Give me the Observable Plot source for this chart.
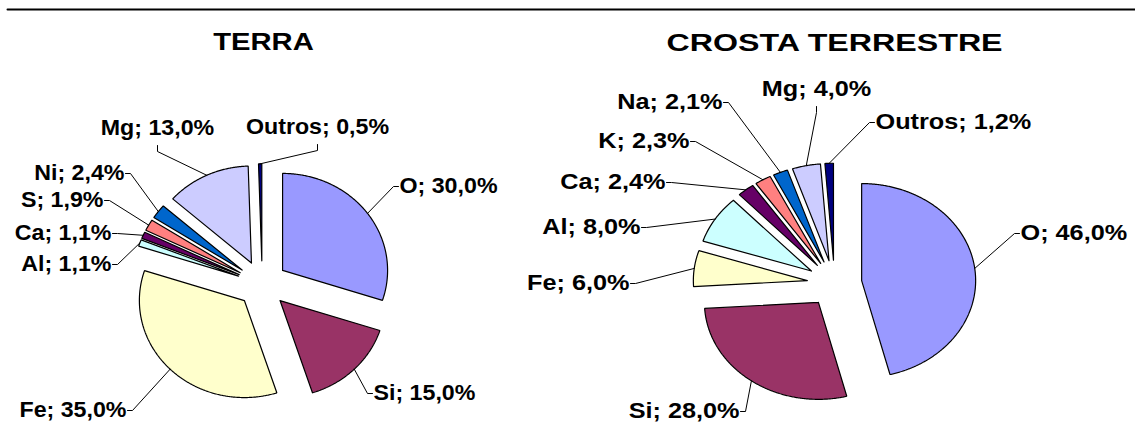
<!DOCTYPE html>
<html><head><meta charset="utf-8">
<script src="https://cdn.jsdelivr.net/npm/d3@7"></script>
<script src="https://cdn.jsdelivr.net/npm/@observablehq/plot@0.6"></script>
<style>html,body{margin:0;padding:0;background:#fff;} #chart svg{display:block;}</style>
</head><body><div id="chart"></div>
<script>
// ---------- DATA ----------
const terraTitle = "TERRA";
const terraCategories = ["O", "Si", "Fe", "Al", "Ca", "S", "Ni", "Mg", "Outros"];
const terraValues = [30.0, 15.0, 35.0, 1.1, 1.1, 1.9, 2.4, 13.0, 0.5];

const crostaTitle = "CROSTA TERRESTRE";
const crostaCategories = ["O", "Si", "Fe", "Al", "Ca", "K", "Na", "Mg", "Outros"];
const crostaValues = [46.0, 28.0, 6.0, 8.0, 2.4, 2.3, 2.1, 4.0, 1.2];

// ---------- STYLE / LAYOUT ----------
const sliceColors = ["#9999FF", "#993366", "#FFFFCC", "#CCFFFF", "#660066", "#FF8080", "#0066CC", "#CCCCFF", "#000080"];
const W = 1135, H = 425;
const FONT = "'Liberation Sans', Arial, Helvetica, sans-serif";
const topRule = {y: 9, x1: 7, x2: W};
const pieLayout = {
  terra:  {cx: 261.7, cy: 283.6, rx: 105, ry: 97, explode: 0.24, stretch: 1.08,  titleX: 263, titleY: 42, titleStretch: 1.27},
  crosta: {cx: 834,   cy: 283,   rx: 114, ry: 97, explode: 0.24, stretch: 1.175, titleX: 834, titleY: 43, titleStretch: 1.40}
};
// label placement per slice: [side, x, y]
const terraLabelLayout = [
  ["right", 399, 186], ["right", 373, 393], ["left", 126, 410], ["left", 111, 264],
  ["left", 111, 233], ["left", 103, 200], ["left", 124, 173], ["top", 157, 128], ["top", 317, 127]
];
const crostaLabelLayout = [
  ["right", 1020, 233], ["left", 739, 411], ["left", 629, 283], ["left", 640, 227],
  ["left", 665, 182], ["left", 689, 141], ["left", 722, 102], ["top", 816, 89], ["right", 875, 122]
];
const labelFontSize = 21.5, titleFontSize = 23;

function fmt(v) { return v.toFixed(1).replace(".", ",") + "%"; }

const pies = [
  {key: "terra", title: terraTitle, cats: terraCategories, vals: terraValues, L: pieLayout.terra, labels: terraLabelLayout},
  {key: "crosta", title: crostaTitle, cats: crostaCategories, vals: crostaValues, L: pieLayout.crosta, labels: crostaLabelLayout}
];

const marks = [];
const textStretch = new Map();
marks.push(Plot.line([{x: topRule.x1, y: topRule.y}, {x: topRule.x2, y: topRule.y}], {x: "x", y: "y", stroke: "#000", strokeWidth: 2}));

for (const p of pies) {
  const L = p.L;
  const arcs = d3.pie().sort(null).startAngle(0).endAngle(2 * Math.PI)(p.vals);
  const textRows = {start: [], end: [], middle: []};
  arcs.forEach((a, i) => {
    const m = (a.startAngle + a.endAngle) / 2;
    const ax = L.cx + L.explode * L.rx * Math.sin(m);
    const ay = L.cy - L.explode * L.ry * Math.cos(m);
    const pts = [{x: ax, y: ay}];
    const n = Math.max(2, Math.ceil((a.endAngle - a.startAngle) / (Math.PI / 360)));
    for (let k = 0; k <= n; k++) {
      const t = a.startAngle + (a.endAngle - a.startAngle) * k / n;
      pts.push({x: ax + L.rx * Math.sin(t), y: ay - L.ry * Math.cos(t)});
    }
    pts.push({x: ax, y: ay});
    marks.push(Plot.line(pts, {x: "x", y: "y", fill: sliceColors[i], stroke: "#000", strokeWidth: 1.2, strokeLinejoin: "miter"}));

    // leader line from arc midpoint to label
    const mx = ax + L.rx * Math.sin(m), my = ay - L.ry * Math.cos(m);
    const [side, tx, ty] = p.labels[i];
    let attach, elbow, anchor;
    if (side === "right") { attach = {x: tx - 1, y: ty}; elbow = {x: tx - 6, y: ty}; anchor = "start"; }
    else if (side === "left") { attach = {x: tx + 1, y: ty}; elbow = {x: tx + 6, y: ty}; anchor = "end"; }
    else { attach = {x: tx, y: ty + 17}; elbow = {x: tx, y: ty + 23}; anchor = "middle"; }
    marks.push(Plot.line([{x: mx, y: my}, elbow, attach], {x: "x", y: "y", stroke: "#000", strokeWidth: 1}));
    const label = `${p.cats[i]}; ${fmt(p.vals[i])}`;
    textStretch.set(label, {sx: L.stretch, x: tx, y: ty});
    textRows[anchor].push({x: tx, y: ty, text: label});
  });
  for (const anchor of ["start", "end", "middle"]) {
    if (!textRows[anchor].length) continue;
    marks.push(Plot.text(textRows[anchor], {x: "x", y: "y", text: "text", textAnchor: anchor, fontSize: labelFontSize, fontWeight: "bold", fill: "#000"}));
  }
  textStretch.set(p.title, {sx: L.titleStretch, x: L.titleX, y: L.titleY});
  marks.push(Plot.text([{x: L.titleX, y: L.titleY, text: p.title}], {x: "x", y: "y", text: "text", textAnchor: "middle", fontSize: titleFontSize, fontWeight: "bold", fill: "#000"}));
}

const svg = Plot.plot({
  width: W, height: H, margin: 0,
  x: {domain: [0, W], range: [0, W], axis: null},
  y: {domain: [0, H], range: [0, H], axis: null},
  style: {fontFamily: FONT, background: "#fff"},
  marks
});

// horizontal stretch of text (the reference chart is horizontally stretched);
// Plot's own vertical centring (y="0.32em") is kept.
const xs = svg.scale("x"), ys = svg.scale("y");
for (const t of svg.querySelectorAll("text")) {
  const s = textStretch.get(t.textContent);
  if (!s) continue;
  t.setAttribute("transform", `translate(${xs.apply(s.x)},${ys.apply(s.y)}) scale(${s.sx},1)`);
}
document.getElementById("chart").appendChild(svg);
</script>
</body></html>
